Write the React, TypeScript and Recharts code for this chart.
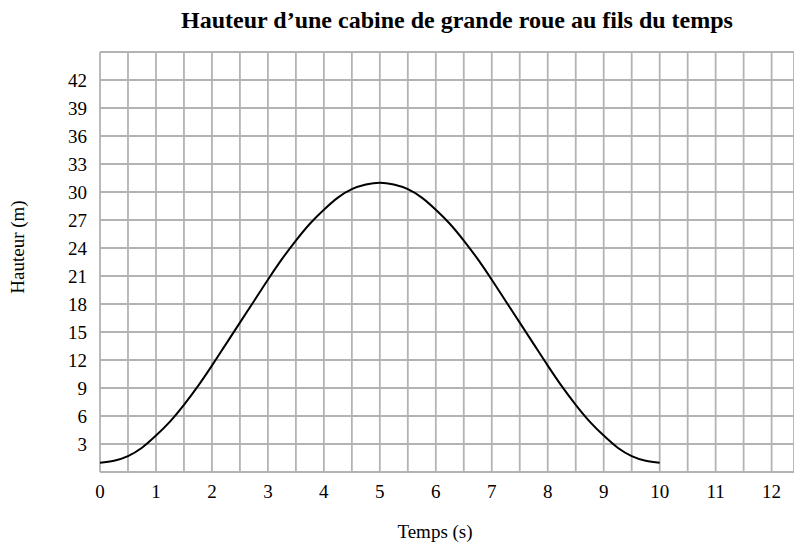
import { LineChart, Line, XAxis, YAxis, CartesianGrid, Label } from 'recharts'

// temps (s) et hauteur (m)
const temps = [0, 0.25, 0.5, 0.75, 1, 1.25, 1.5, 1.75, 2, 2.25, 2.5, 2.75, 3, 3.25, 3.5, 3.75, 4, 4.25, 4.5, 4.75, 5,
  5.25, 5.5, 5.75, 6, 6.25, 6.5, 6.75, 7, 7.25, 7.5, 7.75, 8, 8.25, 8.5, 8.75, 9, 9.25, 9.5, 9.75, 10]
const hauteur = [1, 1.2, 1.7, 2.6, 3.9, 5.4, 7.2, 9.2, 11.4, 13.7, 16, 18.3, 20.6, 22.8, 24.8, 26.6, 28.1, 29.4, 30.3, 30.8, 31,
  30.8, 30.3, 29.4, 28.1, 26.6, 24.8, 22.8, 20.6, 18.3, 16, 13.7, 11.4, 9.2, 7.2, 5.4, 3.9, 2.6, 1.7, 1.2, 1]

const xTicks = [0, 0.5, 1, 1.5, 2, 2.5, 3, 3.5, 4, 4.5, 5, 5.5, 6, 6.5, 7, 7.5, 8, 8.5, 9, 9.5, 10, 10.5, 11, 11.5, 12]
const yTicks = [0, 3, 6, 9, 12, 15, 18, 21, 24, 27, 30, 33, 36, 39, 42, 45]

const data = temps.map((t, i) => ({ t, h: hauteur[i] }))

const font = '"Liberation Serif", "Times New Roman", serif'

export default function App() {
  return (
    <div style={{ position: 'absolute', left: 0, top: 0, width: 794, height: 548, overflow: 'hidden', background: '#fff', fontFamily: font }}>
      <div style={{ position: 'absolute', top: 7, left: 110, width: 694, textAlign: 'center', fontWeight: 'bold', fontSize: 24, color: '#000' }}>
        Hauteur d’une cabine de grande roue au fils du temps
      </div>
      <LineChart width={794} height={548} data={data} margin={{ top: 52, right: 0, left: 0, bottom: 0 }}>
        <CartesianGrid stroke="#b3b3b3" strokeWidth={1.8} />
        <XAxis
          type="number"
          dataKey="t"
          domain={[0, 12.4]}
          ticks={xTicks}
          interval={0}
          allowDataOverflow
          axisLine={false}
          tickLine={false}
          tickSize={0}
          tickMargin={13}
          height={76}
          tick={{ fontSize: 19, fill: '#000', fontFamily: font }}
          tickFormatter={(v: number) => (Number.isInteger(v) ? String(v) : '')}
        >
          <Label value="Temps (s)" position="insideBottom" offset={10} dx={-12} style={{ fontSize: 19, fill: '#000', fontFamily: font }} />
        </XAxis>
        <YAxis
          type="number"
          domain={[0, 45]}
          ticks={yTicks}
          interval={0}
          axisLine={false}
          tickLine={false}
          tickSize={0}
          tickMargin={13}
          width={100}
          tick={{ fontSize: 19, fill: '#000', fontFamily: font }}
          tickFormatter={(v: number) => (v === 0 || v === 45 ? '' : String(v))}
        >
          <Label
            content={() => (
              <text x={24} y={247} transform="rotate(-90 24 247)" textAnchor="middle" fontSize={19} fill="#000" fontFamily={font}>
                Hauteur (m)
              </text>
            )}
          />
        </YAxis>
        <Line type="monotone" dataKey="h" stroke="#000" strokeWidth={2} dot={false} isAnimationActive={false} />
      </LineChart>
    </div>
  )
}
